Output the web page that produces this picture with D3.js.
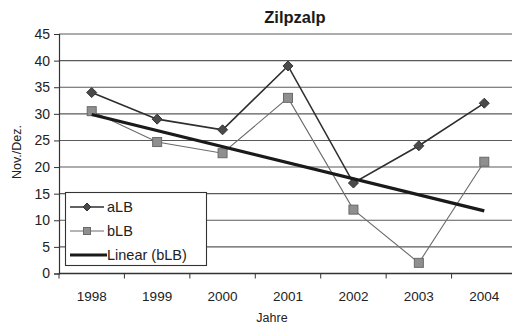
<!DOCTYPE html>
<html>
<head>
<meta charset="utf-8">
<script src="https://cdn.jsdelivr.net/npm/d3@7"></script>
<style>
  html, body { margin: 0; padding: 0; background: #fff; }
  svg { display: block; }
  svg text { font-family: "Liberation Sans", Arial, sans-serif; }
</style>
</head>
<body>
<svg id="chart" width="512" height="327"></svg>
<script>
// Zilpzalp counts per year (Nov./Dez.)
const years = ["1998", "1999", "2000", "2001", "2002", "2003", "2004"];
const aLB = [34, 29, 27, 39, 17, 24, 32];
const bLB = [30.5, 24.7, 22.6, 33, 12, 2, 21];
const yTicks = [0, 5, 10, 15, 20, 25, 30, 35, 40, 45];

const svg = d3.select("#chart");
const margin = { left: 59, right: -5, top: 34, bottom: 54 };
const W = 512, H = 327;

const x = d3.scaleBand().domain(years).range([margin.left, W - margin.right]);
const y = d3.scaleLinear().domain([0, 45]).range([H - margin.bottom + 0.5, margin.top]);
const cx = d => x(d) + x.bandwidth() / 2;

// horizontal gridlines
svg.append("g").selectAll("line").data(yTicks.filter(t => t > 0)).join("line")
  .attr("x1", margin.left).attr("x2", W)
  .attr("y1", d => y(d)).attr("y2", d => y(d))
  .attr("stroke", "#5a5a5a").attr("stroke-width", 1.1);

// y axis
const yAxis = svg.append("g")
  .attr("transform", `translate(${margin.left},0)`)
  .call(d3.axisLeft(y).tickValues(yTicks).tickSize(5).tickPadding(4));
yAxis.attr("font-family", null);
yAxis.select(".domain").attr("stroke", "#333").attr("stroke-width", 1.2);
yAxis.selectAll(".tick line").attr("stroke", "#333");
yAxis.selectAll("text").attr("font-size", 14).attr("fill", "#222");

// x axis with ticks between categories
const xAxisG = svg.append("g").attr("transform", `translate(0,${y(0)})`);
xAxisG.append("line").attr("x1", margin.left).attr("x2", W)
  .attr("stroke", "#333").attr("stroke-width", 1.3);
xAxisG.selectAll("line.tk").data(years).join("line").attr("class", "tk")
  .attr("x1", d => x(d)).attr("x2", d => x(d))
  .attr("y1", 0).attr("y2", 5).attr("stroke", "#333");
xAxisG.selectAll("text").data(years).join("text")
  .attr("x", d => cx(d)).attr("y", 27)
  .attr("text-anchor", "middle").attr("font-size", 13.5).attr("fill", "#222")
  .text(d => d);

// linear trend of bLB (least squares)
const xs = years.map((_, i) => i + 1);
const mx = d3.mean(xs), my = d3.mean(bLB);
const slope = d3.sum(xs, (xi, i) => (xi - mx) * (bLB[i] - my)) / d3.sum(xs, xi => (xi - mx) ** 2);
const intercept = my - slope * mx;
const trend = [years[0], years[years.length - 1]].map(yr => {
  const xi = years.indexOf(yr) + 1;
  return { year: yr, v: intercept + slope * xi };
});

const line = d3.line().x(d => cx(d.year)).y(d => y(d.v));
const aData = years.map((yr, i) => ({ year: yr, v: aLB[i] }));
const bData = years.map((yr, i) => ({ year: yr, v: bLB[i] }));

// bLB series
svg.append("path").datum(bData).attr("d", line)
  .attr("fill", "none").attr("stroke", "#6a6a6a").attr("stroke-width", 1.1);
svg.append("g").selectAll("rect").data(bData).join("rect")
  .attr("x", d => cx(d.year) - 4.5).attr("y", d => y(d.v) - 4.5)
  .attr("width", 9).attr("height", 9)
  .attr("fill", "#8f8f8f").attr("stroke", "#6a6a6a").attr("stroke-width", 1);

// aLB series
svg.append("path").datum(aData).attr("d", line)
  .attr("fill", "none").attr("stroke", "#2e2e2e").attr("stroke-width", 1.6);
const diamond = "M0,-5L5,0L0,5L-5,0Z";
svg.append("g").selectAll("path").data(aData).join("path")
  .attr("d", diamond)
  .attr("transform", d => `translate(${cx(d.year)},${y(d.v)})`)
  .attr("fill", "#4a4a4a").attr("stroke", "#333");

// trend line
svg.append("path").datum(trend).attr("d", line)
  .attr("fill", "none").attr("stroke", "#1a1a1a").attr("stroke-width", 3.2);

// title
svg.append("text").attr("x", 295).attr("y", 23).attr("text-anchor", "middle")
  .attr("font-size", 16.5).attr("font-weight", "bold").attr("fill", "#1a1a1a")
  .text("Zilpzalp");

// axis titles
svg.append("text").attr("transform", "translate(21,152) rotate(-90)")
  .attr("text-anchor", "middle").attr("font-size", 12.5).attr("fill", "#222")
  .text("Nov./Dez.");
svg.append("text").attr("x", 272).attr("y", 322).attr("text-anchor", "middle")
  .attr("font-size", 12.5).attr("fill", "#222").text("Jahre");

// legend
const lg = svg.append("g");
lg.append("rect").attr("x", 65.5).attr("y", 192.5).attr("width", 141).attr("height", 73)
  .attr("fill", "#fff").attr("stroke", "#333").attr("stroke-width", 1.1);
const items = [
  { name: "aLB", type: "a" },
  { name: "bLB", type: "b" },
  { name: "Linear (bLB)", type: "t" }
];
const smallDiamond = "M0,-4L4,0L0,4L-4,0Z";
items.forEach((it, i) => {
  const yy = 207 + i * 24;
  const g = lg.append("g");
  if (it.type === "a") {
    g.append("line").attr("x1", 70).attr("x2", 104).attr("y1", yy).attr("y2", yy)
      .attr("stroke", "#2e2e2e").attr("stroke-width", 1.6);
    g.append("path").attr("d", smallDiamond).attr("transform", `translate(87,${yy})`)
      .attr("fill", "#4a4a4a").attr("stroke", "#333");
  } else if (it.type === "b") {
    g.append("line").attr("x1", 70).attr("x2", 104).attr("y1", yy).attr("y2", yy)
      .attr("stroke", "#6a6a6a").attr("stroke-width", 1.1);
    g.append("rect").attr("x", 83.5).attr("y", yy - 3.5).attr("width", 7).attr("height", 7)
      .attr("fill", "#8f8f8f").attr("stroke", "#6a6a6a");
  } else {
    g.append("line").attr("x1", 70).attr("x2", 107).attr("y1", yy).attr("y2", yy)
      .attr("stroke", "#1a1a1a").attr("stroke-width", 3.2);
  }
  g.append("text").attr("x", 107).attr("y", yy + 5).attr("font-size", 14.5)
    .attr("fill", "#222").text(it.name);
});
</script>
</body>
</html>
